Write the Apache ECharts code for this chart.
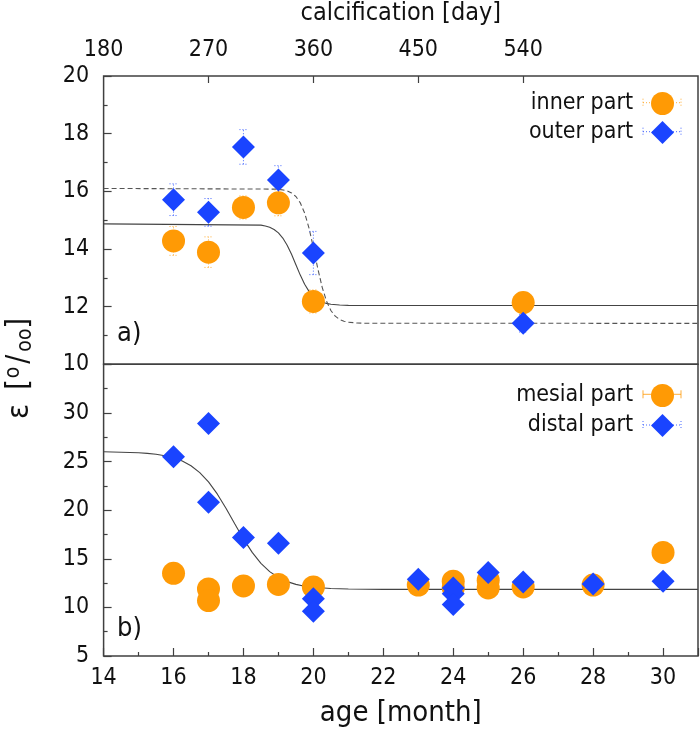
<!DOCTYPE html>
<html>
<head>
<meta charset="utf-8">
<script src="https://cdn.jsdelivr.net/npm/echarts@6.0.0/dist/echarts.min.js"></script>
<style>
html,body{margin:0;padding:0;background:#fff;}
#chart{width:700px;height:729px;}
</style>
</head>
<body>
<div id="chart"></div>
<script>
// ---- data ----
const monthsTop = [16, 17, 18, 19, 20, 26];
const innerVals = [14.28, 13.89, 15.44, 15.60, 12.18, 12.14];
const innerErr  = [0.50, 0.53, 0.40, 0.45, 0.40, 0.35];
const outerVals = [15.71, 15.27, 17.54, 16.39, 13.86, 11.42];
const outerErr  = [0.55, 0.48, 0.60, 0.50, 0.75, 0.30];

const mesialX    = [16, 17, 17, 18, 19, 20, 23, 24, 24, 25, 25, 26, 28, 30];
const mesialVals = [13.5, 11.9, 10.7, 12.2, 12.36, 12.1, 12.3, 12.7, 12.0, 12.8, 12.0, 12.1, 12.3, 15.65];
const distalX    = [16, 17, 17, 18, 19, 20, 20, 23, 24, 24, 24, 25, 26, 28, 30];
const distalVals = [25.5, 28.9, 20.8, 17.2, 16.6, 10.9, 9.6, 12.9, 12.0, 11.4, 10.3, 13.6, 12.6, 12.4, 12.7];

const fitTopSolidX = [14, 18.5, 18.625, 18.75, 18.875, 19, 19.125, 19.25, 19.375, 19.5, 19.625, 19.75, 19.875, 20, 20.125, 20.25, 20.375, 20.5, 20.75, 21, 31];
const fitTopSolidY = [14.87, 14.827, 14.798, 14.751, 14.675, 14.557, 14.380, 14.132, 13.816, 13.455, 13.094, 12.778, 12.530, 12.353, 12.235, 12.159, 12.112, 12.083, 12.055, 12.045, 12.04];
const fitTopDashX  = [14, 19, 19.25, 19.375, 19.5, 19.625, 19.75, 19.875, 20, 20.125, 20.25, 20.375, 20.5, 20.625, 20.75, 20.875, 21, 21.25, 21.5, 31];
const fitTopDashY  = [16.10, 16.076, 16.016, 15.945, 15.819, 15.601, 15.246, 14.723, 14.051, 13.326, 12.679, 12.190, 11.866, 11.670, 11.557, 11.494, 11.460, 11.432, 11.424, 11.42];
const fitBotX = [14, 15, 15.25, 15.5, 15.75, 16, 16.25, 16.5, 16.75, 17, 17.25, 17.5, 17.75, 18, 18.25, 18.5, 18.75, 19, 19.25, 19.5, 19.75, 20, 20.5, 21, 22, 31];
const fitBotY = [26.0, 25.896, 25.837, 25.745, 25.603, 25.385, 25.054, 24.565, 23.864, 22.904, 21.668, 20.197, 18.604, 17.042, 15.656, 14.529, 13.676, 13.067, 12.647, 12.367, 12.182, 12.063, 11.937, 11.885, 11.857, 11.85];

const dayLabels = [180, 270, 360, 450, 540];
const dayTicks  = [270, 360, 450, 540];

const legendTop = ['inner part', 'outer part'];
const legendBot = ['mesial part', 'distal part'];

// ---- styling ----
const FONT = "'DejaVu Sans Condensed', 'DejaVu Sans', sans-serif";
const ORANGE = '#ff9a05';
const BLUE = '#1a44ff';
const AXIS = '#404040';

const zip = (xs, ys) => xs.map((x, i) => [x, ys[i]]);
const errData = (xs, ys, es) => xs.map((x, i) => [x, ys[i] - es[i], ys[i] + es[i]]);

function errRender(color) {
  return function (params, api) {
    const x = api.value(0);
    const p1 = api.coord([x, api.value(1)]);
    const p2 = api.coord([x, api.value(2)]);
    const cap = 4;
    const style = { stroke: color, lineWidth: 1, lineDash: [1, 2], opacity: 0.8 };
    return {
      type: 'group',
      children: [
        { type: 'line', shape: { x1: p1[0], y1: p1[1], x2: p2[0], y2: p2[1] }, style },
        { type: 'line', shape: { x1: p1[0] - cap, y1: p1[1], x2: p1[0] + cap, y2: p1[1] }, style },
        { type: 'line', shape: { x1: p2[0] - cap, y1: p2[1], x2: p2[0] + cap, y2: p2[1] }, style }
      ]
    };
  };
}

// small error-bar glyphs drawn next to legend symbols
function legendBar(y, color, dash) {
  const style = { stroke: color, lineWidth: 1, lineDash: dash, opacity: 0.8 };
  return [
    { type: 'line', shape: { x1: 643, y1: y, x2: 681, y2: y }, style, z: 1 },
    { type: 'line', shape: { x1: 643, y1: y - 4, x2: 643, y2: y + 4 }, style, z: 1 },
    { type: 'line', shape: { x1: 681, y1: y - 4, x2: 681, y2: y + 4 }, style, z: 1 }
  ];
}

const tickLabel = { fontFamily: FONT, fontSize: 23, color: '#111' };

const option = {
  animation: false,
  textStyle: { fontFamily: FONT },
  grid: [
    { left: 103.6, right: 2, top: 71.7, height: 292.6, show: true, borderColor: AXIS, borderWidth: 1.5 },
    { left: 103.6, right: 2, top: 364.3, height: 293.2, show: true, borderColor: AXIS, borderWidth: 1.5 }
  ],
  xAxis: [
    { // top panel, month (hidden scale)
      type: 'value', gridIndex: 0, min: 14, max: 31, interval: 2,
      axisLine: { show: false }, axisTick: { show: false }, axisLabel: { show: false }, splitLine: { show: false }
    },
    { // top panel, calcification day
      type: 'value', gridIndex: 0, position: 'top', min: 180, max: 690, interval: 90,
      name: 'calcification [day]', nameLocation: 'middle', nameGap: 50,
      nameTextStyle: { fontFamily: FONT, fontSize: 25, color: '#111' },
      axisLine: { show: false },
      axisTick: { show: true, inside: true, length: 7, customValues: dayTicks, lineStyle: { color: AXIS, width: 1.2 } },
      axisLabel: Object.assign({ margin: 14.5, customValues: dayLabels }, tickLabel),
      splitLine: { show: false }
    },
    { // bottom panel, month
      type: 'value', gridIndex: 1, min: 14, max: 31, interval: 2,
      name: 'age [month]', nameLocation: 'middle', nameGap: 43,
      nameTextStyle: { fontFamily: FONT, fontSize: 29, color: '#111' },
      axisLine: { show: false },
      axisTick: { show: true, inside: true, length: 8, lineStyle: { color: AXIS, width: 1.2 } },
      minorTick: { show: true, splitNumber: 2, length: 4, lineStyle: { color: AXIS, width: 1.2 } },
      axisLabel: Object.assign({ margin: 11, showMaxLabel: false }, tickLabel),
      splitLine: { show: false }
    }
  ],
  yAxis: [
    {
      type: 'value', gridIndex: 0, min: 10, max: 20, interval: 2,
      axisLine: { show: false },
      axisTick: { show: true, inside: true, length: 8, lineStyle: { color: AXIS, width: 1.2 } },
      minorTick: { show: true, splitNumber: 2, length: 4, lineStyle: { color: AXIS, width: 1.2 } },
      axisLabel: Object.assign({ margin: 14.5 }, tickLabel),
      splitLine: { show: false }
    },
    {
      type: 'value', gridIndex: 1, min: 5, max: 35, interval: 5,
      axisLine: { show: false },
      axisTick: { show: true, inside: true, length: 8, lineStyle: { color: AXIS, width: 1.2 } },
      minorTick: { show: true, splitNumber: 2, length: 4, lineStyle: { color: AXIS, width: 1.2 } },
      axisLabel: Object.assign({ margin: 14.5, showMaxLabel: false }, tickLabel),
      splitLine: { show: false }
    }
  ],
  legend: [
    {
      data: legendTop, orient: 'vertical', right: 21, top: 87, align: 'right',
      itemWidth: 23, itemHeight: 23, itemGap: 6,
      textStyle: { fontFamily: FONT, fontSize: 23, color: '#111', padding: [0, 13, 0, 0] }
    },
    {
      data: legendBot, orient: 'vertical', right: 21, top: 379, align: 'right',
      itemWidth: 23, itemHeight: 23, itemGap: 7,
      textStyle: { fontFamily: FONT, fontSize: 23, color: '#111', padding: [0, 13, 0, 0] }
    }
  ],
  graphic: [
    {
      type: 'text', left: 3, top: 318, rotation: Math.PI / 2, originX: 0, originY: 0,
      style: {
        text: '{e|ε}{br|[}{sup|o}{sl|/}{sub|oo}{br|]}',
        fontFamily: FONT, fontSize: 30, fill: '#111',
        rich: {
          e:   { fontFamily: FONT, fontSize: 31, fill: '#111', padding: [0, 14, 0, 0] },
          br:  { fontFamily: FONT, fontSize: 30, fill: '#111' },
          sl:  { fontFamily: FONT, fontSize: 30, fill: '#111', padding: [0, 3, 0, 3] },
          sup: { fontFamily: FONT, fontSize: 21, fill: '#111', verticalAlign: 'top', padding: [0, 0, 12, 1] },
          sub: { fontFamily: FONT, fontSize: 21, fill: '#111', verticalAlign: 'bottom', padding: [12, 0, 0, 0] }
        }
      },
      z: 10
    },
    { type: 'text', left: 117, top: 320, style: { text: 'a)', fontFamily: FONT, fontSize: 27, fill: '#111' }, z: 10 },
    { type: 'text', left: 117, top: 615, style: { text: 'b)', fontFamily: FONT, fontSize: 27, fill: '#111' }, z: 10 }
  ].concat(
    legendBar(102.7, ORANGE, [1, 2]),
    legendBar(131.7, BLUE, [1, 2]),
    legendBar(394.3, ORANGE, null),
    legendBar(425, BLUE, [1, 2])
  ),
  series: [
    {
      name: 'fitTopSolid', type: 'line', xAxisIndex: 0, yAxisIndex: 0,
      data: zip(fitTopSolidX, fitTopSolidY), showSymbol: false,
      lineStyle: { color: '#444', width: 1.1 }, z: 1, silent: true
    },
    {
      name: 'fitTopDash', type: 'line', xAxisIndex: 0, yAxisIndex: 0,
      data: zip(fitTopDashX, fitTopDashY), showSymbol: false,
      lineStyle: { color: '#555', width: 1.1, type: [5, 3] }, z: 1, silent: true
    },
    {
      name: 'fitBot', type: 'line', xAxisIndex: 2, yAxisIndex: 1,
      data: zip(fitBotX, fitBotY), showSymbol: false,
      lineStyle: { color: '#444', width: 1.1 }, z: 1, silent: true
    },
    {
      name: 'innerErr', type: 'custom', xAxisIndex: 0, yAxisIndex: 0,
      data: errData(monthsTop, innerVals, innerErr), renderItem: errRender(ORANGE), z: 2, silent: true
    },
    {
      name: 'outerErr', type: 'custom', xAxisIndex: 0, yAxisIndex: 0,
      data: errData(monthsTop, outerVals, outerErr), renderItem: errRender(BLUE), z: 2, silent: true
    },
    {
      name: 'inner part', type: 'scatter', xAxisIndex: 0, yAxisIndex: 0,
      data: zip(monthsTop, innerVals), symbol: 'circle', symbolSize: 23,
      itemStyle: { color: ORANGE, opacity: 1 }, z: 3
    },
    {
      name: 'outer part', type: 'scatter', xAxisIndex: 0, yAxisIndex: 0,
      data: zip(monthsTop, outerVals), symbol: 'diamond', symbolSize: 23,
      itemStyle: { color: BLUE, opacity: 1 }, z: 4
    },
    {
      name: 'mesial part', type: 'scatter', xAxisIndex: 2, yAxisIndex: 1,
      data: zip(mesialX, mesialVals), symbol: 'circle', symbolSize: 23,
      itemStyle: { color: ORANGE, opacity: 1 }, z: 3
    },
    {
      name: 'distal part', type: 'scatter', xAxisIndex: 2, yAxisIndex: 1,
      data: zip(distalX, distalVals), symbol: 'diamond', symbolSize: 23,
      itemStyle: { color: BLUE, opacity: 1 }, z: 4
    }
  ]
};

const chart = echarts.init(document.getElementById('chart'), null, { renderer: 'canvas' });
chart.setOption(option);
</script>
</body>
</html>
